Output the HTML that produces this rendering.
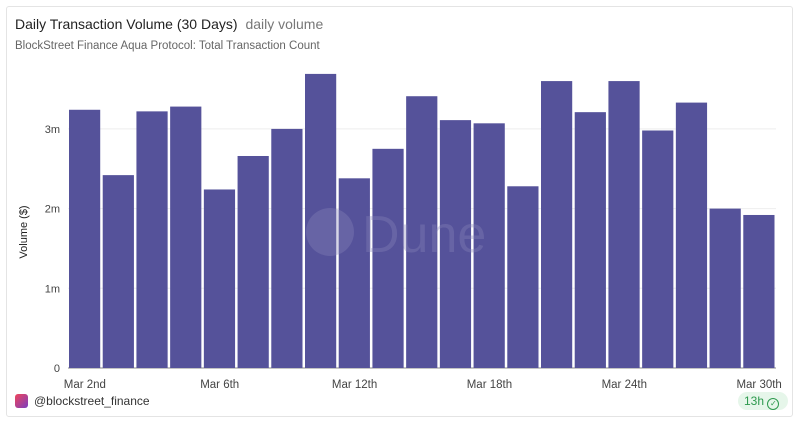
<!DOCTYPE html>
<html><head><meta charset="utf-8"><style>
body{margin:0;background:#fff;width:800px;height:423px;overflow:hidden;font-family:"Liberation Sans",sans-serif}
.card{position:absolute;left:6px;top:6px;width:787px;height:411px;border:1px solid #e4e4e4;border-radius:3px;box-sizing:border-box}
</style></head><body>
<div class="card"></div>
<div style="position:absolute;left:15px;top:16px;font-size:14px;color:#222">Daily Transaction Volume (30 Days) <span style="color:#777;margin-left:4px">daily volume</span></div>
<div style="position:absolute;left:15px;top:40px;font-size:11.5px;color:#666">BlockStreet Finance Aqua Protocol: Total Transaction Count</div>
<svg id="chart" width="800" height="423" style="position:absolute;left:0;top:0"></svg>
<div style="position:absolute;left:15px;top:394px;width:13px;height:14px;border-radius:3px;background:linear-gradient(135deg,#f0455a,#7b3fc0)"></div>
<div style="position:absolute;left:34px;top:394px;font-size:12px;color:#333">@blockstreet_finance</div>
<div style="position:absolute;left:738px;top:392px;width:50px;height:18px;border-radius:9px;background:#e6f6ea;color:#2e9a4e;font-size:12px;line-height:18px;padding-left:6px;box-sizing:border-box;white-space:nowrap">13h <span style="display:inline-block;width:10px;height:10px;border:1.3px solid #2e9a4e;border-radius:50%;font-size:8px;line-height:10px;text-align:center;vertical-align:-1px">✓</span></div>
<script>
const categories=["Mar 2","Mar 3","Mar 4","Mar 5","Mar 6","Mar 7","Mar 8","Mar 9","Mar 12","Mar 13","Mar 14","Mar 15","Mar 16","Mar 18","Mar 19","Mar 20","Mar 21","Mar 24","Mar 25","Mar 27","Mar 30"];
const values=[3.24,2.42,3.22,3.28,2.24,2.66,3.0,3.69,2.38,2.75,3.41,3.11,3.07,2.28,3.6,3.21,3.6,2.98,3.33,2.0,1.92];
const yTicks=[0,1,2,3];
const yTickLabels=["0","1m","2m","3m"];
const xTickIdx=[0,4,8,12,16,20];
const xTickLabels=["Mar 2nd","Mar 6th","Mar 12th","Mar 18th","Mar 24th","Mar 30th"];
const svg=document.getElementById('chart');const NS='http://www.w3.org/2000/svg';
const L=68,R=776,Y0=368,PX=79.7;
const band=(R-L)/categories.length;
const y=v=>Y0-v*PX, x=i=>L+i*band;
function mk(t,a){const e=document.createElementNS(NS,t);for(const k in a)e.setAttribute(k,a[k]);svg.appendChild(e);return e;}
yTicks.forEach((v,i)=>{
 const g=mk('line',{x1:L,x2:R,y1:y(v),y2:y(v),stroke:i?'#eee':'#888','stroke-width':1});
 
 
 const t=mk('text',{x:L-8,y:y(v)+4,'text-anchor':'end','font-size':11,fill:'#444','font-family':'Liberation Sans'});
 t.textContent=yTickLabels[i];
 
 
});
values.forEach((v,i)=>{
 const b=mk('rect',{x:x(i)+1,y:y(v),width:band-2.5,height:Y0-y(v),fill:'#55529a'});
 
 
});
mk('circle',{cx:330,cy:232,r:24,fill:'#8a88bb','fill-opacity':0.35});
const wm=mk('text',{x:362,y:252,'font-size':52,fill:'#8a88bb','fill-opacity':0.35,'font-family':'Liberation Sans'});wm.textContent='Dune';


xTickIdx.forEach((idx,i)=>{
 const t=mk('text',{x:x(idx)+band/2,y:388,'text-anchor':'middle','font-size':11.5,fill:'#444','font-family':'Liberation Sans'});
 t.textContent=xTickLabels[i];
 
 
});
const yt=mk('text',{x:0,y:0,'font-size':11,fill:'#222','font-family':'Liberation Sans','text-anchor':'middle',transform:'translate(27,232) rotate(-90)'});
yt.textContent='Volume ($)';


</script>
</body></html>
